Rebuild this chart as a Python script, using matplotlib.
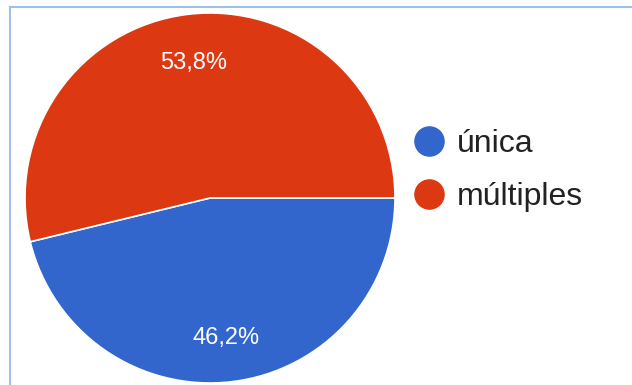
import matplotlib
matplotlib.use("Agg")
import matplotlib.pyplot as plt
from matplotlib.lines import Line2D
import numpy as np

categories = ["única", "múltiples"]
values = [46.2, 53.8]
pct_labels = ["46,2%", "53,8%"]
colors = ["#3366CC", "#DC3912"]

W, H = 632, 385
fig = plt.figure(figsize=(W / 100, H / 100), dpi=100)
fig.patch.set_facecolor("white")
plt.rcParams['font.family'] = ['Liberation Sans', 'DejaVu Sans']

# pie axes: center (210,198), radius 185 px
cx, cy, r = 210, 198, 185
ax = fig.add_axes([(cx - r) / W, (H - cy - r) / H, 2 * r / W, 2 * r / H])
wedges, _ = ax.pie(values, colors=colors, startangle=0, counterclock=False,
                   radius=1.0, wedgeprops=dict(edgecolor="white", linewidth=1.2))
ang = 0.0
for v, lab in zip(values, pct_labels):
    mid = ang - v / 100 * 360 / 2
    ang -= v / 100 * 360
    t = np.deg2rad(mid)
    ax.text(0.75 * np.cos(t), 0.75 * np.sin(t), lab, ha="center",
            va="center_baseline", color="white", fontsize=17)
ax.set_xlim(-1, 1)
ax.set_ylim(-1, 1)
ax.set_aspect("equal")
ax.axis("off")

# legend (manual)
leg_y = [141, 194]
for c, lab, y in zip(colors, categories, leg_y):
    fig.add_artist(Line2D([429 / W], [1 - y / H], marker="o", markersize=21,
                          markerfacecolor=c, markeredgecolor=c, linestyle="none",
                          transform=fig.transFigure))
    fig.text(457 / W, 1 - y / H, lab, ha="left", va="center_baseline",
             fontsize=23, color="#222222")

# light blue frame (top and left)
fig.add_artist(Line2D([10 / W, 1], [1 - 7 / H, 1 - 7 / H], color="#9CC3E6",
                      linewidth=1.5, transform=fig.transFigure))
fig.add_artist(Line2D([10 / W, 10 / W], [0, 1 - 7 / H], color="#9CC3E6",
                      linewidth=1.5, transform=fig.transFigure))

fig.savefig("out.png", dpi=100)
